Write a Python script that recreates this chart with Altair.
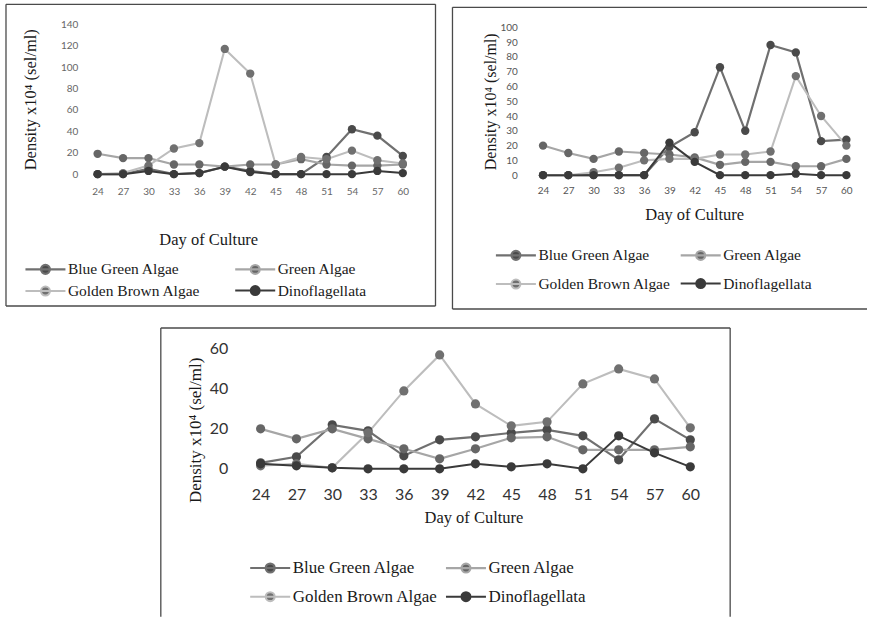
import altair as alt
import pandas as pd

days = [24, 27, 30, 33, 36, 39, 42, 45, 48, 51, 54, 57, 60]
series_names = ["Blue Green Algae", "Green Algae", "Golden Brown Algae", "Dinoflagellata"]

# Panel A (top-left)
a_blue_green = [0, 0, 5, 0, 1, 7, 3, 0, 0, 16, 42, 36, 17]
a_green = [19, 15, 15, 9, 9, 7, 9, 9, 14, 9, 8, 8, 9]
a_golden = [0, 1, 8, 24, 29, 117, 94, 9, 16, 14, 22, 13, 10]
a_dino = [0, 0, 3, 0, 1, 7, 2, 0, 0, 0, 0, 3, 1]

# Panel B (top-right)
b_blue_green = [0, 0, 0, 0, 0, 19, 29, 73, 30, 88, 83, 23, 24]
b_green = [20, 15, 11, 16, 15, 14, 12, 7, 9, 9, 6, 6, 11]
b_golden = [0, 0, 2, 5, 10, 11, 11, 14, 14, 16, 67, 40, 20]
b_dino = [0, 0, 0, 0, 0, 22, 9, 0, 0, 0, 1, 0, 0]

# Panel C (bottom)
c_blue_green = [3, 6, 22, 19, 6.5, 14.5, 16, 18, 19.5, 16.5, 4.5, 25, 14.5]
c_green = [20, 15, 20, 15, 10, 5, 10, 15.5, 16, 9.5, 9.5, 9.5, 11]
c_golden = [1.5, 2.5, 0.5, 18, 39, 57, 32.5, 21.5, 23.5, 42.5, 50, 45, 20.5]
c_dino = [2.5, 1.5, 0.5, 0, 0, 0, 2.5, 1, 2.5, 0, 16.5, 8, 1]

line_colors = ["#707070", "#a6a6a6", "#bdbdbd", "#3a3a3a"]
marker_colors = ["#4a4a4a", "#666666", "#707070", "#3a3a3a"]
line_widths = [2.2, 2.0, 1.8, 3.2]

SERIF = "Liberation Serif"
SANS = "Lato"
FRAME = "#4a4a4a"
SYM = "M-2.86,0L2.86,0M-0.64,0A0.64,0.64,0,1,1,0.64,0A0.64,0.64,0,1,1,-0.64,0Z"

one_row = pd.DataFrame({"k": [0]})


def hrule(x1, x2, y):
    return alt.Chart(one_row).mark_rule(color=FRAME, strokeWidth=1.3).encode(
        x=alt.value(x1), x2=alt.value(x2), y=alt.value(y))


def vrule(x, y1, y2):
    return alt.Chart(one_row).mark_rule(color=FRAME, strokeWidth=1.3).encode(
        x=alt.value(x), y=alt.value(y1), y2=alt.value(y2))


def panel(values, c):
    rows = []
    for name, vals in zip(series_names, values):
        for d, v in zip(days, vals):
            rows.append({"series": name, "day": d, "value": v})
    df = pd.DataFrame(rows)

    legend = alt.Legend(
        title=None, orient="none", legendX=c["lx"], legendY=c["ly"], columns=2,
        direction="horizontal",
        symbolType=SYM, symbolSize=196, symbolOpacity=1,
        labelFont=SERIF, labelFontSize=c["lfs"], labelColor="#1a1a1a",
        labelOffset=14, columnPadding=c["cp"], rowPadding=c["rp"], padding=0,
        labelLimit=400,
    )
    xaxis = alt.Axis(
        title="Day of Culture", labelAngle=0, domain=False, ticks=False, grid=False,
        labelFont=SANS, labelFontSize=c["tfs"], labelColor=c["tc"], labelPadding=c["xlp"],
        titleFont=SERIF, titleFontSize=c["xtfs"], titleFontWeight="normal", titleColor="#1a1a1a",
        titleX=c["xtx"], titleY=c["xty"], titleAlign="center", titleBaseline="middle",
    )
    yaxis = alt.Axis(
        title="Density x10⁴ (sel/ml)", values=c["yticks"], domain=False, ticks=False, grid=False,
        labelFont=SANS, labelFontSize=c["tfs"], labelColor=c["tc"], labelPadding=c["ylp"],
        titleFont=SERIF, titleFontSize=c["ytfs"], titleFontWeight="normal", titleColor="#1a1a1a",
        titleX=c["ytx"], titleY=c["yty"], titleAngle=270, titleAlign="center", titleBaseline="middle",
    )
    base = alt.Chart(df).encode(
        x=alt.X("day:O", sort=days, axis=xaxis, scale=alt.Scale(type="point", padding=0.5)),
        y=alt.Y("value:Q", axis=yaxis, scale=alt.Scale(domain=[0, c["ymax"]], nice=False)),
    )
    lines = base.mark_line().encode(
        stroke=alt.Stroke("series:N", sort=series_names,
                          scale=alt.Scale(domain=series_names, range=line_colors), legend=legend),
        strokeWidth=alt.StrokeWidth("series:N", sort=series_names,
                                    scale=alt.Scale(domain=series_names, range=line_widths), legend=legend),
    )
    points = base.mark_point(filled=True, size=c["ps"], opacity=1).encode(
        fill=alt.Fill("series:N", sort=series_names,
                      scale=alt.Scale(domain=series_names, range=marker_colors), legend=legend),
    )
    return alt.layer(lines, points, *c["frame"]).properties(width=c["w"], height=c["h"])


p1 = panel([a_blue_green, a_green, a_golden, a_dino], dict(
    w=331, h=150, ymax=140, yticks=[0, 20, 40, 60, 80, 100, 120, 140],
    tfs=10, tc="#666666", ylp=7, xlp=12,
    ytfs=16.5, ytx=-54, yty=75, xtfs=16.5, xtx=123.5, xty=65,
    lx=-48, ly=236.5, lfs=15.5, cp=30, rp=3, ps=70,
    frame=[hrule(-79, 351, -20), hrule(-79, 351, 282), vrule(-79, -20, 282), vrule(351, -20, 282)],
))

p2 = panel([b_blue_green, b_green, b_golden, b_dino], dict(
    w=329, h=151, ymax=102, yticks=list(range(0, 101, 10)),
    tfs=10, tc="#555555", ylp=13, xlp=10,
    ytfs=16, ytx=-40, yty=77, xtfs=16.5, xtx=164, xty=39,
    lx=-23, ly=222.5, lfs=15.5, cp=5, rp=10, ps=70,
    frame=[hrule(-78, 337, -17), hrule(-78, 337, 285), vrule(-78, -17, 285)],
))

p3 = panel([c_blue_green, c_green, c_golden, c_dino], dict(
    w=466, h=120, ymax=60, yticks=[0, 20, 40, 60],
    tfs=16, tc="#333333", ylp=15, xlp=18,
    ytfs=17, ytx=-47, yty=81, xtfs=16.5, xtx=231, xty=49,
    lx=19, ly=210.5, lfs=17, cp=3, rp=10, ps=85,
    frame=[hrule(-82, 488, -21), vrule(-82, -21, 268), vrule(488, -21, 268)],
))

spacer = alt.Chart(one_row).mark_point(opacity=0, size=0).encode(
    x=alt.value(0), y=alt.value(0)).properties(width=158, height=10)

ind = dict(x="independent", y="independent", stroke="independent",
           fill="independent", strokeWidth="independent")

top = alt.hconcat(p1, p2, spacing=115, bounds="flush").resolve_scale(**ind)
bottom = alt.hconcat(spacer, p3, spacing=0, bounds="flush").resolve_scale(**ind)

chart = alt.vconcat(top, bottom, spacing=325, bounds="flush").resolve_scale(**ind).properties(
    padding={"left": 4, "top": 2, "right": 0, "bottom": 0},
    background="white",
).configure_view(stroke="transparent")

chart.save("out.html", embed_options={"renderer": "svg", "actions": False})
